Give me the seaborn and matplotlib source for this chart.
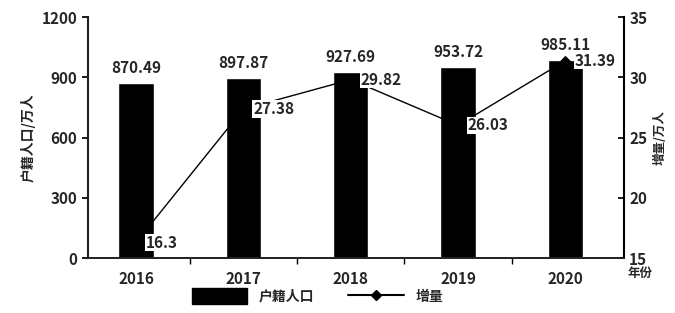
import matplotlib
matplotlib.use("Agg")
import matplotlib.pyplot as plt
import seaborn as sns
import pandas as pd
import numpy as np
from matplotlib.lines import Line2D
from matplotlib.patches import Patch

years = ["2016", "2017", "2018", "2019", "2020"]
population = [870.49, 897.87, 927.69, 953.72, 985.11]
increment = [16.3, 27.38, 29.82, 26.03, 31.39]

sns.set_theme(style="white")
plt.rcParams['font.family'] = ['Noto Sans CJK SC', 'DejaVu Sans']

df = pd.DataFrame({"year": years, "pop": population, "inc": increment})

fig = plt.figure(figsize=(6.75, 3.13), dpi=100)
ax = fig.add_axes([0.13, 0.175, 0.795, 0.77])
sns.barplot(data=df, x="year", y="pop", color="black", width=0.33, ax=ax, saturation=1)
ax.set_ylim(0, 1200)
ax.set_yticks([0, 300, 600, 900, 1200])
ax.set_xlim(-0.45, 4.55)
ax.set_xlabel("")
ax.set_ylabel("户籍人口/万人", fontsize=10, fontweight="bold")
ax.spines["top"].set_visible(False)
ax.spines["left"].set_color("black")
ax.spines["bottom"].set_color("black")
ax.spines["left"].set_linewidth(1.5)
ax.spines["bottom"].set_linewidth(1.2)
ax.tick_params(axis="y", left=True, direction="out", length=4, color="black", labelsize=11)
ax.tick_params(axis="x", bottom=False, labelsize=11)
ax.set_xticks(np.arange(0.5, 4.0, 1.0), minor=True)
ax.tick_params(axis="x", which="minor", bottom=True, direction="out", length=4, color="black")
for lab in ax.get_xticklabels() + ax.get_yticklabels():
    lab.set_fontweight("bold")
for i, v in enumerate(population):
    ax.text(i, v + 35, f"{v:.2f}", ha="center", va="bottom", fontsize=11, fontweight="bold")

ax2 = ax.twinx()
sns.lineplot(data=df, x="year", y="inc", color="black", marker="D", markersize=5,
             markerfacecolor="black", markeredgecolor="black", linewidth=1, ax=ax2)
ax2.set_ylim(15, 35)
ax2.set_yticks([15, 20, 25, 30, 35])
ax2.set_ylabel("增量/万人", fontsize=9, fontweight="bold")
ax2.spines["top"].set_visible(False)
ax2.spines["right"].set_color("black")
ax2.spines["right"].set_linewidth(1.5)
ax2.tick_params(axis="y", right=True, direction="in", length=4, color="black", labelsize=11)
for lab in ax2.get_yticklabels():
    lab.set_fontweight("bold")
ax2.set_xlabel("")
for i, v in enumerate(increment):
    ax2.text(i + 0.09, v, f"{v:g}", ha="left", va="center", fontsize=11, fontweight="bold",
             bbox=dict(facecolor="white", edgecolor="none", pad=0.5))

ax.text(1.005, -0.035, "年份", transform=ax.transAxes, ha="left", va="top", fontsize=9, fontweight="bold")

handles = [Patch(facecolor="black", edgecolor="black", label="户籍人口"),
           Line2D([0], [0], color="black", marker="D", markersize=5, label="增量")]
fig.legend(handles=handles, loc="lower center", bbox_to_anchor=(0.47, -0.01), ncol=2, frameon=False,
           prop={"size": 10, "weight": "bold"}, handlelength=4, handleheight=1.3, columnspacing=2.5)

fig.savefig("out.png", dpi=100)
